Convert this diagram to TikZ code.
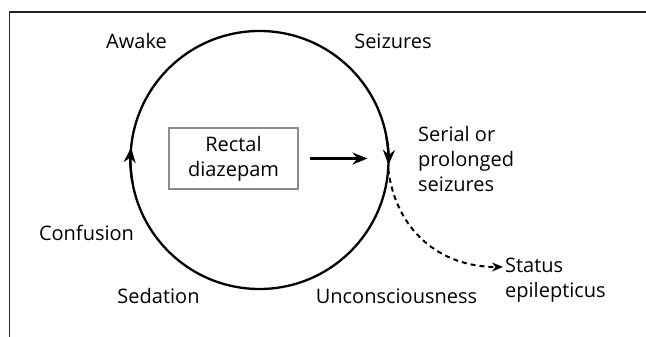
\documentclass[tikz,border=0pt]{standalone}
\usepackage{fontspec}
\setmainfont{Open Sans}
\usetikzlibrary{arrows.meta}

\begin{document}
\begin{tikzpicture}[x=1pt,y=1pt,>/.tip={Stealth[length=15pt,width=12pt]},
	lbl/.style={inner sep=0pt,font=\fontsize{20}{25}\selectfont}]
	\useasboundingbox (0,0) rectangle (646,337);
	% frame, open at the bottom and right
	\draw[line width=1.2pt,black!85] (9.5,0) -- (9.5,325) -- (646,325);

	\draw (259.5,177) node (cyc) [draw,shape=circle,line width=2.3pt,minimum size=258pt,inner sep=0pt,outer sep=0pt] {};
	\draw (233.5,178.5) node (box) [draw=black!45,line width=1.8pt,minimum width=129pt,minimum height=61pt,align=center,lbl] {Rectal\\diazepam};

	\draw (136.5,288.7) node (awake) [lbl,anchor=base] {Awake};
	\draw (393,288) node (seiz) [lbl,anchor=base] {Seizures};
	\draw (418,145.3) node (serial) [lbl,anchor=base west,align=left] {Serial or\\prolonged\\seizures};
	\draw (86.5,96.3) node (conf) [lbl,anchor=base] {Confusion};
	\draw (158.5,33) node (sed) [lbl,anchor=base] {Sedation};
	\draw (396.5,33) node (uncon) [lbl,anchor=base] {Unconsciousness};
	\draw (505,39) node (status) [lbl,anchor=base west,align=left] {Status\\epilepticus};

	% direction of the cycle
	\draw[->,line width=2.3pt] (cyc.center) ++(190:129) arc[start angle=190,end angle=174.5,radius=129];
	\draw[->,line width=2.3pt] (cyc.center) ++(10:129) arc[start angle=10,end angle=-2.2,radius=129];

	\draw[->,line width=2.3pt,shorten <=11pt,shorten >=21pt] (box.east) -- (box.east -| cyc.east);
	\draw[->,line width=2pt,dash pattern=on 5pt off 4pt,>={Stealth[length=11pt,width=9pt]}] (cyc.-4) .. controls +(-83:60) and +(180:65) .. ([xshift=-2pt]status.west |- 0,70);
\end{tikzpicture}
\end{document}
